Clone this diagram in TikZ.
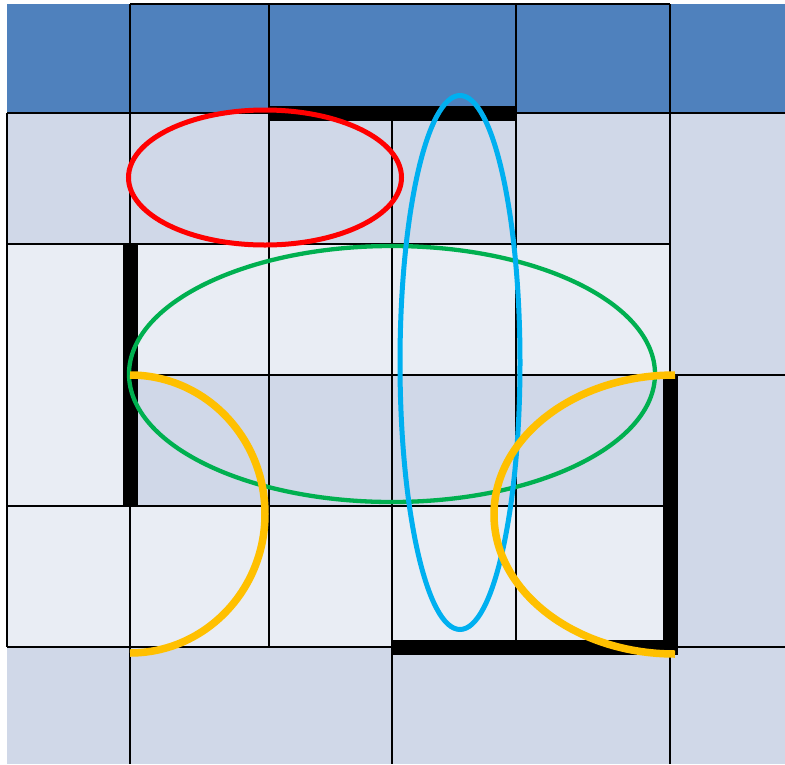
\documentclass[tikz,border=0pt]{standalone}
\usepackage{xcolor}
\definecolor{hdrblue}{HTML}{4F81BD}
\definecolor{cellmid}{HTML}{D0D8E8}
\definecolor{celllight}{HTML}{E9EDF4}
\definecolor{ovred}{HTML}{FF0000}
\definecolor{ovblue}{HTML}{00B0F0}
\definecolor{ovgreen}{HTML}{00B050}
\definecolor{ovyellow}{HTML}{FFC000}
\tikzset{
  gridline/.style={draw=black, line width=2.4pt},
  thickbar/.style={fill=black},
  oval/.style={line width=5pt},
  arcline/.style={draw=ovyellow, line width=7.5pt, line cap=butt}
}
\begin{document}
\begin{tikzpicture}[x=1pt,y=-1pt]
\useasboundingbox (0,0) rectangle (785,764);
% fills
\fill[hdrblue] (7,4) rectangle (785,113);
\fill[cellmid] (7,113) rectangle (785,244);
\fill[cellmid] (670,244) rectangle (785,375);
\fill[cellmid] (130,375) rectangle (785,506);
\fill[cellmid] (670,506) rectangle (785,647);
\fill[cellmid] (7,647) rectangle (785,764);
\fill[celllight] (7,244) rectangle (670,375);
\fill[celllight] (7,375) rectangle (130,506);
\fill[celllight] (7,506) rectangle (670,647);
% horizontal grid lines
\draw[gridline] (130,4) -- (670,4);
\draw[gridline] (7,113) -- (785,113);
\draw[gridline] (7,244) -- (670,244);
\draw[gridline] (130,375) -- (785,375);
\draw[gridline] (7,506) -- (670,506);
\draw[gridline] (7,647) -- (785,647);
% vertical grid lines
\draw[gridline] (7,113) -- (7,647);
\draw[gridline] (130,4) -- (130,764);
\draw[gridline] (269,4) -- (269,647);
\draw[gridline] (392,113) -- (392,764);
\draw[gridline] (516,4) -- (516,647);
\draw[gridline] (670,4) -- (670,764);
% thick bars
\fill[thickbar] (269,106) rectangle (516,121);
\fill[thickbar] (123,244) rectangle (138,506);
\fill[thickbar] (663,375) rectangle (678,655);
\fill[thickbar] (392,640) rectangle (678,655);
% ovals
\coordinate (redc) at (265,177.5);
\coordinate (bluec) at (460,362.5);
\coordinate (greenc) at (392,374);
\draw[oval, ovred] (redc) ellipse [x radius=136.5, y radius=67.5];
\draw[oval, ovgreen, line width=4.3pt] (greenc) ellipse [x radius=263, y radius=128];
\draw[oval, ovblue] (bluec) ellipse [x radius=60, y radius=267];
% yellow arcs
\coordinate (ylstart) at (130,375);
\coordinate (yrstart) at (675,375);
\draw[arcline] (ylstart) arc[start angle=-90, end angle=90, x radius=135, y radius=139];
\draw[arcline] (yrstart) arc[start angle=-90, end angle=-270, x radius=181, y radius=139.5];
\end{tikzpicture}
\end{document}
